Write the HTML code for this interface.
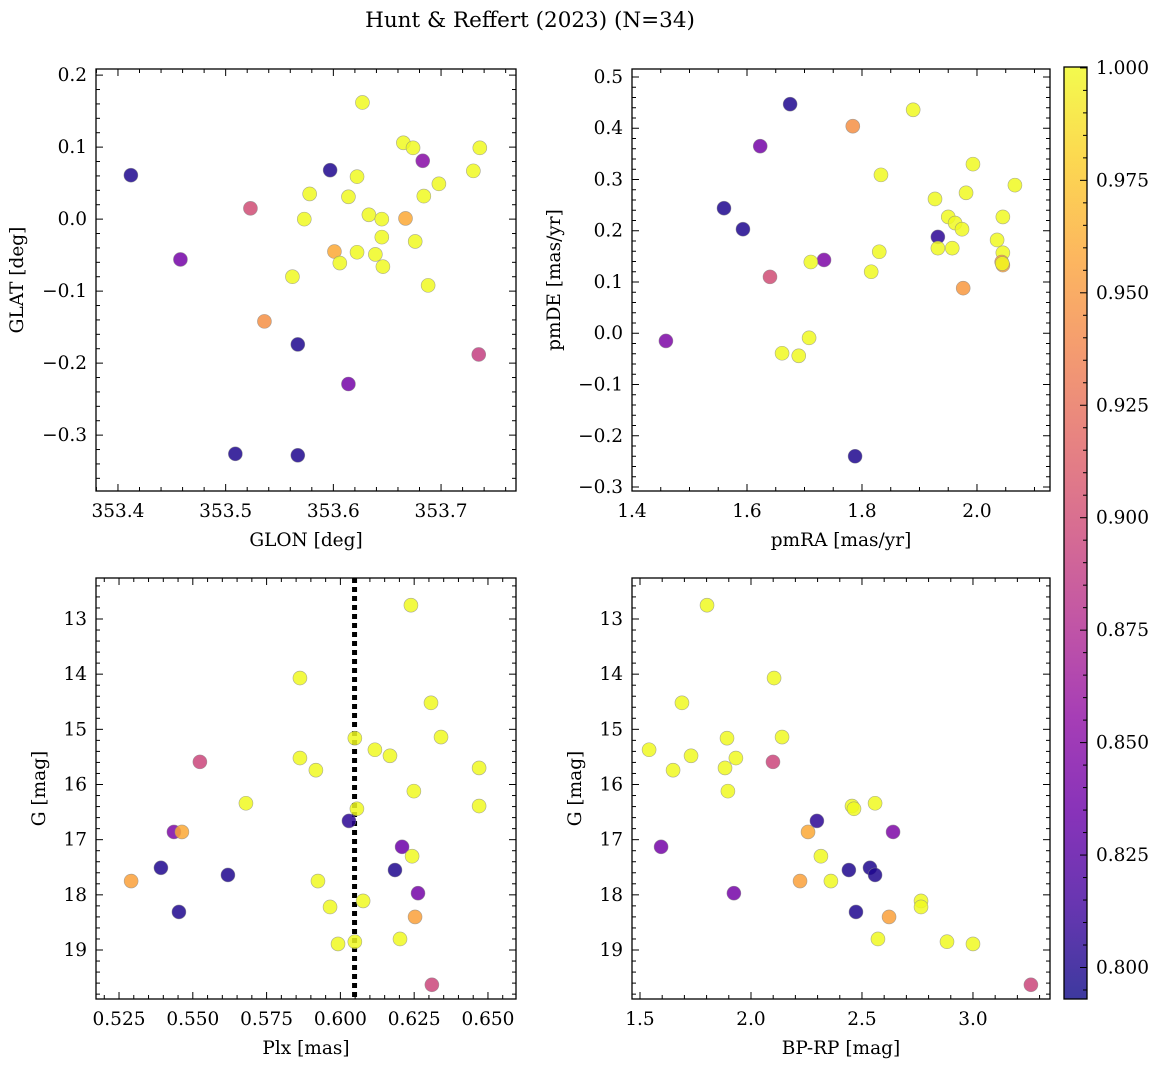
<!DOCTYPE html>
<html><head><meta charset="utf-8"><style>
body{margin:0;background:#fff;}
svg text{font-family:"DejaVu Serif","Liberation Serif",serif;fill:#000;}
</style></head><body>
<svg id="fig" width="1161" height="1067" viewBox="0 0 1161 1067" xmlns="http://www.w3.org/2000/svg">
<defs>
<linearGradient id="plasma" x1="0" y1="1" x2="0" y2="0">
<stop offset="0" stop-color="#0d0887"/><stop offset="0.1" stop-color="#41049d"/><stop offset="0.2" stop-color="#6a00a8"/><stop offset="0.3" stop-color="#8f0da4"/><stop offset="0.4" stop-color="#b12a90"/><stop offset="0.5" stop-color="#cc4778"/><stop offset="0.6" stop-color="#e16462"/><stop offset="0.7" stop-color="#f2844b"/><stop offset="0.8" stop-color="#fca636"/><stop offset="0.9" stop-color="#fcce25"/><stop offset="1" stop-color="#f0f921"/>
</linearGradient>
</defs>
<text x="530" y="27" font-size="21.5" text-anchor="middle">Hunt &amp; Reffert (2023) (N=34)</text>
</svg>
<script>
// ---- data ----
const glon=[353.412,353.523,353.458,353.536,353.509,353.567,353.567,353.597,353.614,353.627,353.578,353.573,353.562,353.601,353.606,353.614,353.622,353.622,353.633,353.639,353.645,353.645,353.646,353.665,353.674,353.667,353.676,353.683,353.684,353.698,353.688,353.730,353.736,353.735];
const glat=[0.061,0.015,-0.056,-0.142,-0.326,-0.174,-0.328,0.068,-0.229,0.162,0.035,0.000,-0.080,-0.045,-0.061,0.031,0.059,-0.046,0.006,-0.049,0.000,-0.025,-0.066,0.106,0.099,0.001,-0.031,0.081,0.032,0.049,-0.092,0.067,0.099,-0.188];
const probA=[0.80,0.90,0.84,0.945,0.80,0.80,0.80,0.80,0.84,1,1,1,1,0.96,1,1,1,1,1,1,1,1,1,1,1,0.96,1,0.85,1,1,1,1,1,0.89];
const pmra=[1.675,1.623,1.560,1.593,1.640,1.734,1.459,1.784,1.788,1.889,1.833,1.830,1.816,1.711,1.708,1.661,1.690,1.927,1.950,1.962,1.932,1.932,1.957,1.974,1.981,1.993,1.976,2.066,2.035,2.045,2.045,2.043,2.045,2.044];
const pmde=[0.447,0.365,0.244,0.203,0.110,0.143,-0.015,0.404,-0.240,0.436,0.309,0.159,0.120,0.139,-0.009,-0.039,-0.044,0.262,0.227,0.215,0.188,0.166,0.166,0.203,0.274,0.330,0.088,0.289,0.182,0.227,0.157,0.139,0.133,0.136];
const probB=[0.80,0.84,0.80,0.80,0.90,0.845,0.845,0.945,0.80,1,1,1,1,1,1,1,1,1,1,1,0.805,1,1,1,1,1,0.95,1,1,1,1,0.95,0.955,1];
const plx=[0.5291,0.5392,0.5453,0.5436,0.5463,0.5524,0.5619,0.5680,0.5863,0.5863,0.5917,0.5924,0.5965,0.5992,0.6029,0.6049,0.6056,0.6049,0.6077,0.6117,0.6168,0.6185,0.6202,0.6209,0.6239,0.6249,0.6243,0.6253,0.6263,0.6307,0.6341,0.6310,0.6470,0.6470];
const gmagC=[17.75,17.51,18.31,16.86,16.86,15.59,17.64,16.34,14.07,15.52,15.74,17.75,18.22,18.89,16.66,15.16,16.44,18.85,18.11,15.37,15.48,17.55,18.80,17.13,12.75,16.12,17.30,18.40,17.97,14.52,15.14,19.63,15.70,16.39];
const probC=[0.955,0.80,0.80,0.845,0.96,0.895,0.80,1,1,1,1,1,1,1,0.805,1,1,1,1,1,1,0.80,1,0.835,1,1,1,0.955,0.84,1,1,0.895,1,1];
const bprp=[1.541,1.595,1.649,1.689,1.730,1.802,1.883,1.892,1.896,1.923,1.932,2.099,2.104,2.140,2.257,2.297,2.315,2.221,2.360,2.441,2.455,2.464,2.473,2.536,2.559,2.559,2.572,2.622,2.640,2.766,2.766,2.883,3.000,3.261];
const gmagD=[15.37,17.13,15.74,14.52,15.48,12.75,15.70,15.16,16.12,17.97,15.52,15.59,14.07,15.14,16.86,16.66,17.30,17.75,17.75,17.55,16.39,16.44,18.31,17.51,17.64,16.34,18.80,18.40,16.86,18.11,18.22,18.85,18.89,19.63];
const probD=[1,0.84,1,1,1,1,1,1,1,0.84,1,0.895,1,1,0.96,0.805,1,0.955,1,0.80,1,1,0.80,0.80,0.80,1,1,0.955,0.845,1,1,1,1,0.895];
const plxLine=0.6048;
const ticksA_x=[353.4,353.5,353.6,353.7], ticksA_y=[0.2,0.1,0.0,-0.1,-0.2,-0.3];
const ticksB_x=[1.4,1.6,1.8,2.0], ticksB_y=[0.5,0.4,0.3,0.2,0.1,0.0,-0.1,-0.2,-0.3];
const ticksC_x=[0.525,0.550,0.575,0.600,0.625,0.650], ticksG=[13,14,15,16,17,18,19];
const ticksD_x=[1.5,2.0,2.5,3.0];
const ticksCbar=[0.800,0.825,0.850,0.875,0.900,0.925,0.950,0.975,1.000];
const cmin=0.793, cmax=1.0002;

const NS="http://www.w3.org/2000/svg";
const svg=document.getElementById('fig');
const FS=18.5;
function mk(tag,attrs,parent){const e=document.createElementNS(NS,tag);for(const k in attrs)e.setAttribute(k,attrs[k]);(parent||svg).appendChild(e);return e;}
const stops=[[13,8,135],[65,4,157],[106,0,168],[143,13,164],[177,42,144],[204,71,120],[225,100,98],[242,132,75],[252,166,54],[252,206,37],[240,249,33]];
function cmap(v){let t=(v-cmin)/(cmax-cmin);t=Math.max(0,Math.min(1,t))*10;const i=Math.min(9,Math.floor(t)),f=t-i;const a=stops[i],b=stops[i+1];return 'rgb('+a.map((c,k)=>Math.round(c+(b[k]-c)*f)).join(',')+')';}
function fmt(v,d){const s=Math.abs(v).toFixed(d);return (v<-1e-9?'\u2212':'')+s;}

function panel(o){
  const g=mk('g',{});
  
  
  const X=v=>o.x0+(v-o.xd[0])/(o.xd[1]-o.xd[0])*(o.x1-o.x0);
  const Y=v=>o.y0+(v-o.yd[0])/(o.yd[1]-o.yd[0])*(o.y1-o.y0);
  const tg=mk('g',{stroke:'#000','stroke-width':1},g);
  
  
  const lo=Math.min(o.xd[0],o.xd[1]),hi=Math.max(o.xd[0],o.xd[1]);
  for(let k=Math.ceil(lo/o.xm-1e-6);k*o.xm<=hi+1e-9;k++){const v=k*o.xm,px=X(v);const major=o.xt.some(t=>Math.abs(t-v)<o.xm/10);const L=major?7:4;
    mk('line',{x1:px,x2:px,y1:o.y1,y2:o.y1-L},tg);mk('line',{x1:px,x2:px,y1:o.y0,y2:o.y0+L},tg);}
  const ylo=Math.min(o.yd[0],o.yd[1]),yhi=Math.max(o.yd[0],o.yd[1]);
  for(let k=Math.ceil(ylo/o.ym-1e-6);k*o.ym<=yhi+1e-9;k++){const v=k*o.ym,py=Y(v);const major=o.yt.some(t=>Math.abs(t-v)<o.ym/10);const L=major?7:4;
    mk('line',{x1:o.x0,x2:o.x0+L,y1:py,y2:py},tg);mk('line',{x1:o.x1,x2:o.x1-L,y1:py,y2:py},tg);}
  o.xt.forEach(v=>{const t=mk('text',{x:X(v),y:o.y1+26,'font-size':FS,'text-anchor':'middle'},g);t.textContent=fmt(v,o.xdp);
    });
  o.yt.forEach(v=>{const t=mk('text',{x:o.x0-9,y:Y(v)+6,'font-size':FS,'text-anchor':'end'},g);t.textContent=fmt(v,o.ydp);
    });
  const xl=mk('text',{x:(o.x0+o.x1)/2,y:o.y1+55,'font-size':FS,'text-anchor':'middle'},g);xl.textContent=o.xlab;
  
  const yl=mk('text',{x:0,y:0,'font-size':FS,'text-anchor':'middle',transform:`translate(${o.ylx},${(o.y0+o.y1)/2}) rotate(-90)`},g);yl.textContent=o.ylab;
  
  if(o.vline!==undefined){const l=mk('line',{x1:X(o.vline),x2:X(o.vline),y1:o.y0,y2:o.y1,stroke:'#000','stroke-width':5,'stroke-dasharray':'5,4'},g);
    }
  o.xs.forEach((xv,i)=>{const c=mk('circle',{cx:X(xv),cy:Y(o.ys[i]),r:7,fill:cmap(o.cs[i]),'fill-opacity':0.85,stroke:'#888','stroke-width':0.6,'stroke-opacity':0.7},g);
    });
  const fr=mk('rect',{x:o.x0,y:o.y0,width:o.x1-o.x0,height:o.y1-o.y0,fill:'none',stroke:'#000','stroke-width':1.3},g);
  
}
panel({name:'glon-glat-panel',x0:96,x1:516,y0:69,y1:491,xd:[353.3796,353.7696],yd:[0.2085,-0.3776],xt:ticksA_x,yt:ticksA_y,xm:0.02,ym:0.02,xdp:1,ydp:1,xlab:'GLON [deg]',ylab:'GLAT [deg]',ylx:23,xs:glon,ys:glat,cs:probA});
panel({name:'pm-panel',x0:632,x1:1050,y0:69,y1:491,xd:[1.4,2.127],yd:[0.5156,-0.3078],xt:ticksB_x,yt:ticksB_y,xm:0.05,ym:0.02,xdp:1,ydp:1,xlab:'pmRA [mas/yr]',ylab:'pmDE [mas/yr]',ylx:560,xs:pmra,ys:pmde,cs:probB});
panel({name:'plx-g-panel',x0:96,x1:516,y0:578,y1:999,xd:[0.5172,0.6595],yd:[12.257,19.888],xt:ticksC_x,yt:ticksG,xm:0.005,ym:0.2,xdp:3,ydp:0,xlab:'Plx [mas]',ylab:'G [mag]',ylx:45,xs:plx,ys:gmagC,cs:probC,vline:plxLine});
panel({name:'cmd-panel',x0:632,x1:1050,y0:578,y1:999,xd:[1.464,3.347],yd:[12.257,19.888],xt:ticksD_x,yt:ticksG,xm:0.1,ym:0.2,xdp:1,ydp:0,xlab:'BP-RP [mag]',ylab:'G [mag]',ylx:581,xs:bprp,ys:gmagD,cs:probD});
const cb=mk('g',{});


const cb0=67,cb1=999,cx0=1064,cx1=1087;
const CY=v=>cb1-(v-cmin)/(cmax-cmin)*(cb1-cb0);
mk('rect',{x:cx0,y:cb0,width:cx1-cx0,height:cb1-cb0,fill:'url(#plasma)','fill-opacity':0.8},cb);
for(let k=Math.ceil(cmin/0.005);k*0.005<=cmax+1e-9;k++){const v=k*0.005,py=CY(v);const major=ticksCbar.some(t=>Math.abs(t-v)<1e-4);
  mk('line',{x1:cx1,x2:cx1-(major?7:4),y1:py,y2:py,stroke:'#000','stroke-width':1},cb);}
ticksCbar.forEach(v=>{const t=mk('text',{x:cx1+9,y:CY(v)+6,'font-size':FS},cb);t.textContent=v.toFixed(3);
  });
mk('rect',{x:cx0,y:cb0,width:cx1-cx0,height:cb1-cb0,fill:'none',stroke:'#000','stroke-width':1.3},cb);
</script>
</body></html>
